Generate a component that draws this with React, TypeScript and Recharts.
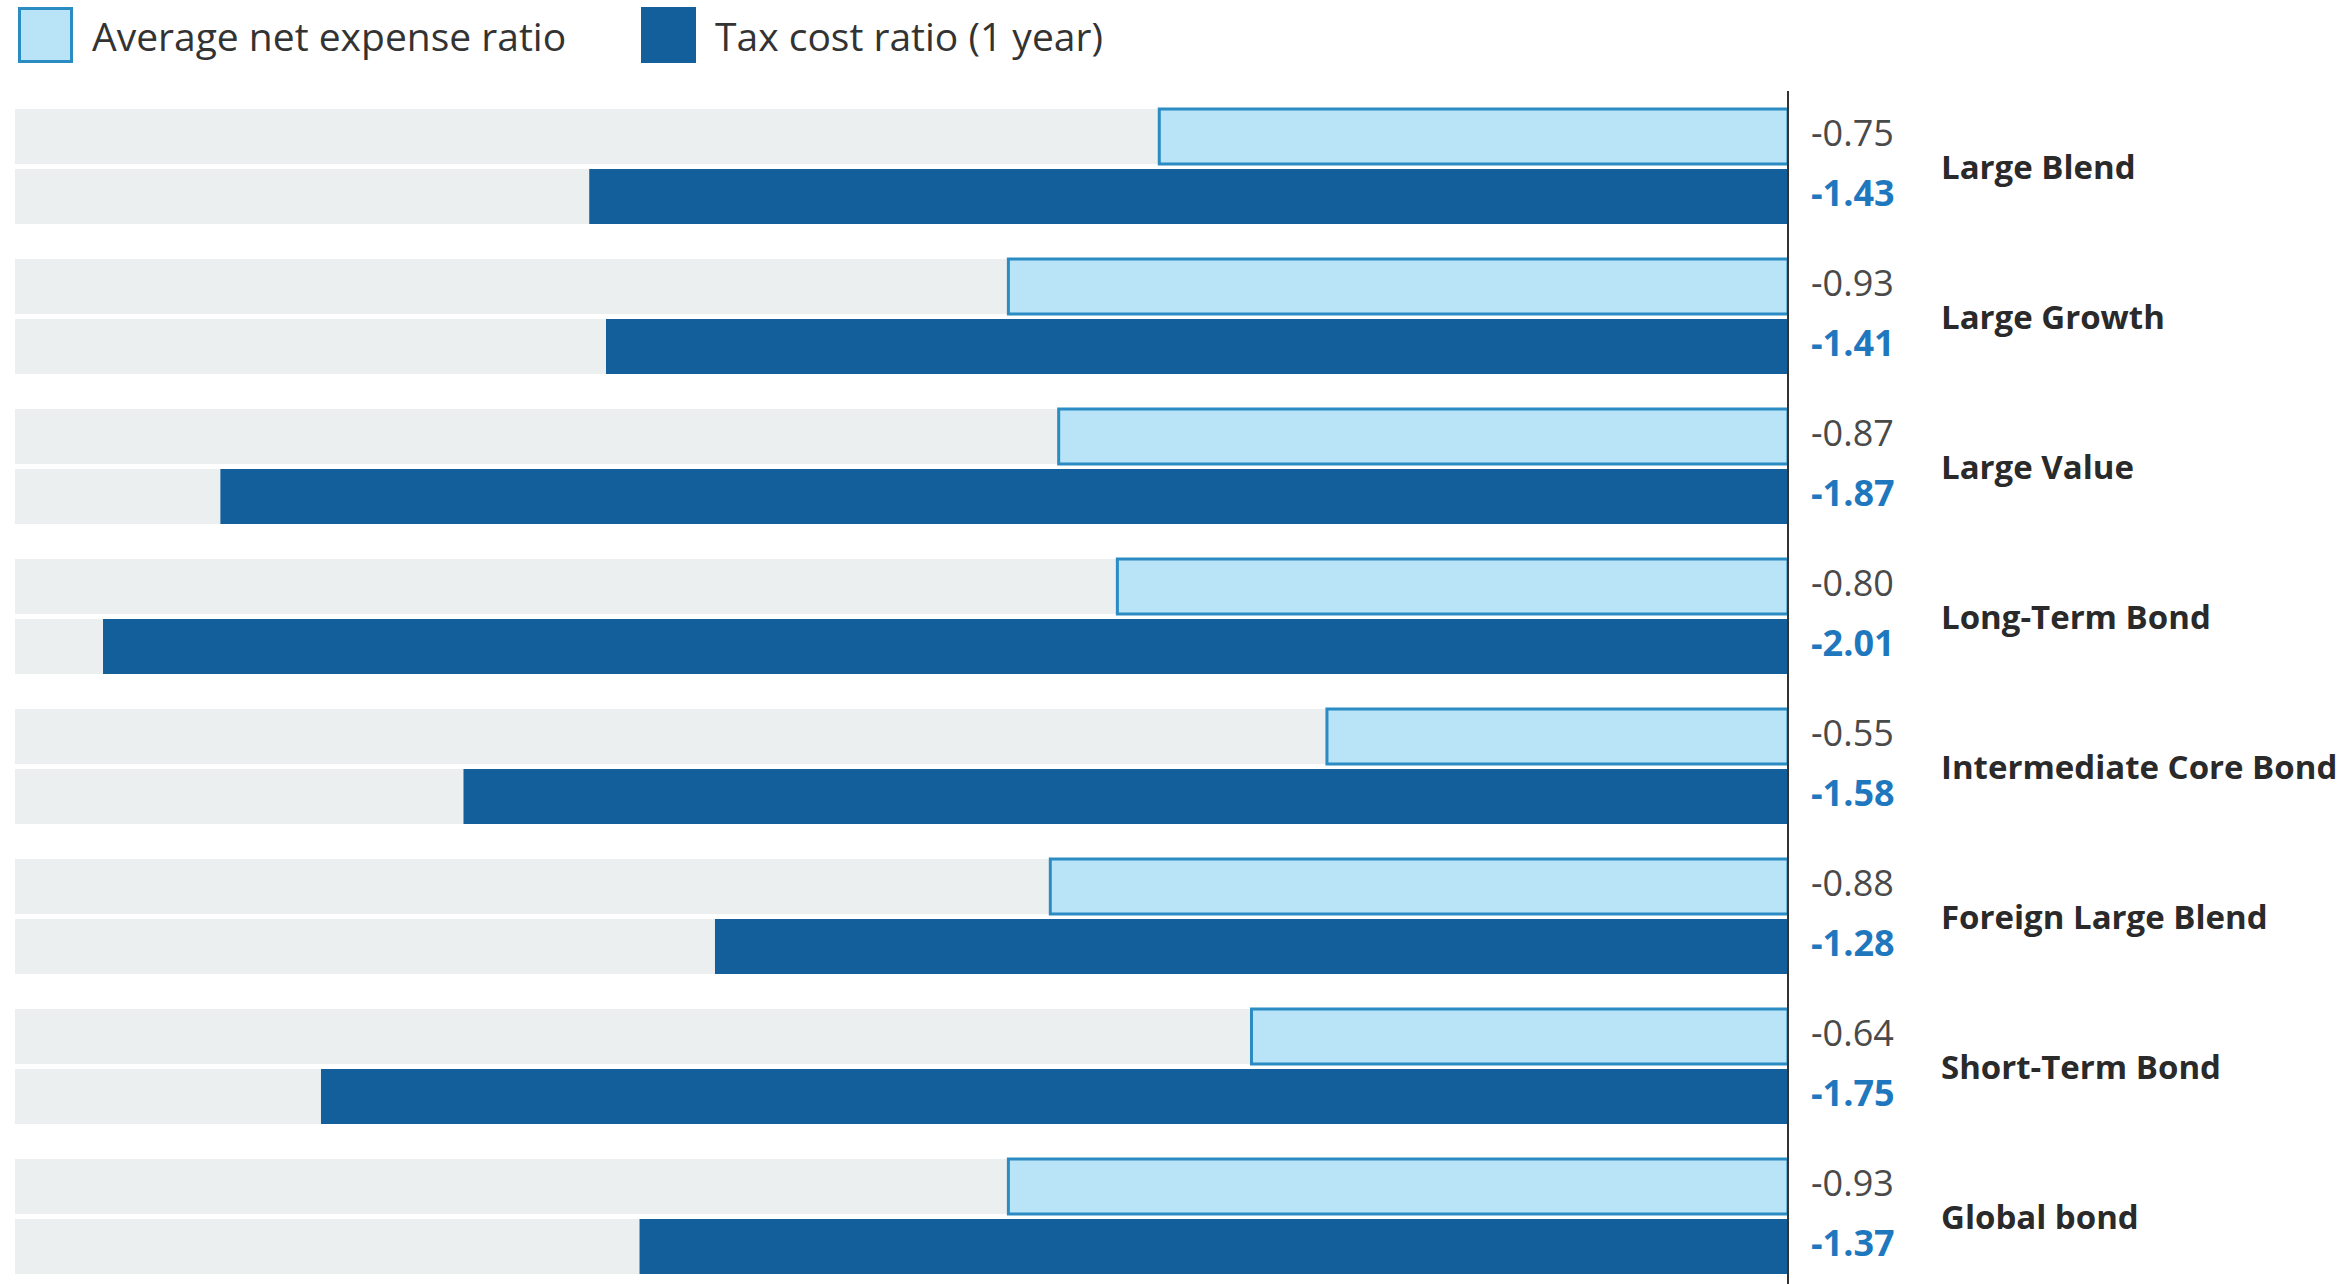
import React from 'react';
import { BarChart, Bar, XAxis, YAxis, LabelList } from 'recharts';

const categories = [
  'Large Blend',
  'Large Growth',
  'Large Value',
  'Long-Term Bond',
  'Intermediate Core Bond',
  'Foreign Large Blend',
  'Short-Term Bond',
  'Global bond',
];
const expenseRatio = [-0.75, -0.93, -0.87, -0.8, -0.55, -0.88, -0.64, -0.93];
const taxCostRatio = [-1.43, -1.41, -1.87, -2.01, -1.58, -1.28, -1.75, -1.37];
const seriesNames = ['Average net expense ratio', 'Tax cost ratio (1 year)'];

const data = categories.map((name, i) => ({
  name,
  expense: expenseRatio[i],
  tax: taxCostRatio[i],
}));

const FONT = '"Open Sans", "Noto Sans", sans-serif';
const LIGHT_FILL = '#b9e3f7';
const LIGHT_STROKE = '#2b8bc3';
const DARK_FILL = '#135f9c';
const BG_FILL = '#eceff0';

const makeValueLabel = (color: string, weight: number) => (props: any) => {
  const { x, y, width, height, value } = props;
  const right = Math.max(Number(x), Number(x) + Number(width));
  return (
    <text
      x={right + 23}
      y={Number(y) + Number(height) / 2 - 4}
      dominantBaseline="central"
      fill={color}
      fontSize={36}
      fontWeight={weight}
      fontFamily={FONT}
    >
      {Number(value).toFixed(2)}
    </text>
  );
};

const CategoryTick = (props: any) => {
  const { x, y, payload } = props;
  return (
    <text
      x={Number(x) + 145}
      y={Number(y)}
      dominantBaseline="central"
      fill="#2a2a2a"
      fontSize={33}
      fontWeight={700}
      fontFamily={FONT}
    >
      {payload.value}
    </text>
  );
};

const LegendItem = ({ label, fill, stroke, width }: { label: string; fill: string; stroke: string; width?: number }) => (
  <div style={{ display: 'flex', alignItems: 'center', width }}>
    <div
      style={{
        width: 55,
        height: 56,
        boxSizing: 'border-box',
        background: fill,
        border: `3px solid ${stroke}`,
        marginRight: 19,
        flex: 'none',
      }}
    />
    <span style={{ fontFamily: FONT, fontSize: 39, color: '#333', whiteSpace: 'nowrap' }}>{label}</span>
  </div>
);

export default function App() {
  return (
    <div
      style={{
        position: 'fixed',
        top: 0,
        left: 0,
        width: 2343,
        height: 1284,
        overflow: 'hidden',
        background: '#fff',
      }}
    >
      <div
        style={{
          position: 'absolute',
          top: 7,
          left: 18,
          display: 'flex',
        }}
      >
        <LegendItem label={seriesNames[0]} fill={LIGHT_FILL} stroke={LIGHT_STROKE} width={623} />
        <LegendItem label={seriesNames[1]} fill={DARK_FILL} stroke={DARK_FILL} />
      </div>
      <BarChart
        width={2343}
        height={1300}
        data={data}
        layout="vertical"
        margin={{ top: 91, right: 0, bottom: 9, left: 15 }}
        barSize={55}
        barGap={5}
      >
        <XAxis type="number" domain={[-2.115, 0]} hide allowDataOverflow />
        <YAxis
          type="category"
          dataKey="name"
          orientation="right"
          width={555}
          axisLine={{ stroke: '#333', strokeWidth: 2 }}
          tickLine={false}
          tick={<CategoryTick />}
          interval={0}
        />
        <Bar
          dataKey="expense"
          name={seriesNames[0]}
          fill={LIGHT_FILL}
          stroke={LIGHT_STROKE}
          strokeWidth={3}
          background={{ fill: BG_FILL, stroke: 'none' }}
          isAnimationActive={false}
        >
          <LabelList dataKey="expense" content={makeValueLabel('#4a4a4a', 400)} />
        </Bar>
        <Bar
          dataKey="tax"
          name={seriesNames[1]}
          fill={DARK_FILL}
          background={{ fill: BG_FILL, stroke: 'none' }}
          isAnimationActive={false}
        >
          <LabelList dataKey="tax" content={makeValueLabel('#1f78be', 700)} />
        </Bar>
      </BarChart>
    </div>
  );
}
